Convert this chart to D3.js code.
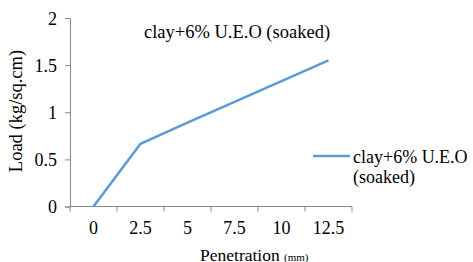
<!DOCTYPE html>
<html>
<head>
<meta charset="utf-8">
<script src="https://cdn.jsdelivr.net/npm/d3@7"></script>
<style>
  body { margin: 0; background: #fff; }
  svg text { font-family: "Liberation Serif", serif; fill: #000; }
</style>
</head>
<body>
<div id="chart"></div>
<script>
const penetration = ['0', '2.5', '5', '7.5', '10', '12.5'];
const load = [0, 0.665, 0.89, 1.11, 1.33, 1.55];
const yTicks = [0, 0.5, 1, 1.5, 2];
const seriesName = 'clay+6% U.E.O (soaked)';

const font = 'Liberation Serif';
const width = 473, height = 262;
const margin = { top: 18, left: 70, plotRight: 352, bottom: 206.5 };

const xScale = d3.scaleBand()
      .domain(penetration)
      .range([margin.left, margin.plotRight]);

const yScale = d3.scaleLinear()
      .domain([0, 2])
      .range([margin.bottom, margin.top]);

const svg = d3.select('#chart').append('svg')
      .attr('width', width)
      .attr('height', height);

// y axis
const yAxis = svg.append('g')
      .attr('transform', 'translate(' + margin.left + ',0)')
      .call(d3.axisLeft(yScale).tickValues(yTicks).tickSize(5).tickPadding(8).tickFormat(d3.format('')));
yAxis.select('.domain').attr('stroke', '#898989');
yAxis.selectAll('.tick line').attr('stroke', '#898989');
yAxis.selectAll('text')
      .attr('dy', '0.35em')
      .style('font-size', '18px')
      .style('font-family', font);

// x axis: ticks on band boundaries
const xAxis = svg.append('g')
      .attr('transform', 'translate(0,' + margin.bottom + ')');
xAxis.append('line')
      .attr('x1', margin.left).attr('x2', margin.plotRight)
      .attr('stroke', '#898989');
const bounds = penetration.map(d => xScale(d)).concat([xScale.range()[1]]);
xAxis.selectAll('.tk')
      .data(bounds)
    .enter().append('line')
      .attr('x1', d => d).attr('x2', d => d)
      .attr('y1', 0).attr('y2', 5)
      .attr('stroke', '#898989');
xAxis.selectAll('.lbl')
      .data(penetration)
    .enter().append('text')
      .attr('x', d => xScale(d) + xScale.bandwidth() / 2)
      .attr('y', 27.5)
      .attr('text-anchor', 'middle')
      .style('font-size', '18px')
      .style('font-family', font)
      .text(d => d);

// line
const line = d3.line()
      .x((d, i) => xScale(penetration[i]) + xScale.bandwidth() / 2)
      .y(d => yScale(d));
svg.append('path')
      .datum(load)
      .attr('d', line)
      .attr('fill', 'none')
      .attr('stroke', '#5B9BD5')
      .attr('stroke-width', 2.5);

// title
svg.append('text')
      .attr('x', 237)
      .attr('y', 38)
      .attr('text-anchor', 'middle')
      .style('font-size', '18.5px')
      .style('font-family', font)
      .text(seriesName);

// axis titles
svg.append('text')
      .attr('transform', 'translate(22,111) rotate(-90)')
      .attr('text-anchor', 'middle')
      .style('font-size', '18.5px')
      .style('font-family', font)
      .text('Load (kg/sq.cm)');

const xt = svg.append('text')
      .attr('x', 200)
      .attr('y', 261)
      .style('font-size', '17.5px')
      .style('font-family', font);
xt.append('tspan').text('Penetration ');
xt.append('tspan').style('font-size', '11px').text('(mm)');

// legend
svg.append('line')
      .attr('x1', 313).attr('x2', 350)
      .attr('y1', 156).attr('y2', 156)
      .attr('stroke', '#5B9BD5')
      .attr('stroke-width', 2.5);
svg.append('text')
      .attr('x', 353)
      .attr('y', 163)
      .style('font-size', '18px')
      .style('font-family', font)
      .text('clay+6% U.E.O');
svg.append('text')
      .attr('x', 353)
      .attr('y', 183)
      .style('font-size', '18px')
      .style('font-family', font)
      .text('(soaked)');
</script>
</body>
</html>
